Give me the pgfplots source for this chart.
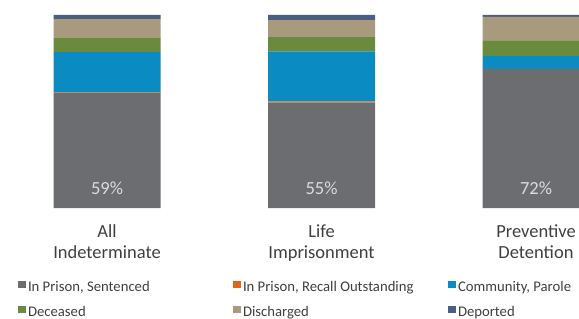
\documentclass[border=0pt]{standalone}
\usepackage{pgfplots}
\pgfplotsset{compat=1.18}
\usepackage{fontspec}
\setmainfont{Carlito}
\definecolor{cSent}{HTML}{6C6D71}
\definecolor{cRec}{HTML}{E0661C}
\definecolor{cComm}{HTML}{0A8BC2}
\definecolor{cDec}{HTML}{6A8A3D}
\definecolor{cDis}{HTML}{A99A7D}
\definecolor{cDep}{HTML}{4A5F81}
\definecolor{cPct}{HTML}{DCDCDC}
\definecolor{cTxt}{HTML}{3F3F3F}
\begin{document}
\begin{tikzpicture}
\path[use as bounding box] (0bp,0bp) rectangle (579bp,319bp);
\clip (0bp,0bp) rectangle (579bp,319bp);
\begin{axis}[
  at={(-0.25bp,111bp)}, anchor=south west,
  scale only axis, width=643.5bp, height=193bp,
  xmin=-0.5, xmax=2.5, ymin=0, ymax=100,
  hide axis,
  ybar stacked, bar width=107bp,
  clip=false,
  legend columns=3,
  legend style={at={(0.02836,-0.478)}, anchor=west, draw=none, fill=none,
    inner sep=0pt, outer sep=0pt, column sep=0pt, row sep=11bp,
    font=\fontsize{14.7bp}{17bp}\selectfont, text=cTxt,
    nodes={inner sep=1.5bp, text height=9bp, text depth=2bp}},
  legend image code/.code={\fill[#1] (0bp,-0.25bp) rectangle (7.5bp,7.25bp); \path (8.5bp,0bp);},
]
\addplot[fill=cSent, draw=none] coordinates {(0,59.7) (1,54.6) (2,72.0)};
\addlegendentry{\makebox[203.5bp][l]{In Prison, Sentenced}}
\addplot[fill=cRec, draw=none] coordinates {(0,0.2) (1,0.6) (2,0.1)};
\addlegendentry{\makebox[203.5bp][l]{In Prison, Recall Outstanding}}
\addplot[fill=cComm, draw=none] coordinates {(0,20.8) (1,25.9) (2,6.6)};
\addlegendentry{\makebox[203.5bp][l]{Community, Parole}}
\addplot[fill=cDec, draw=none] coordinates {(0,7.3) (1,7.5) (2,7.9)};
\addlegendentry{\makebox[203.5bp][l]{Deceased}}
\addplot[fill=cDis, draw=none] coordinates {(0,9.8) (1,8.7) (2,12.4)};
\addlegendentry{\makebox[203.5bp][l]{Discharged}}
\addplot[fill=cDep, draw=none] coordinates {(0,2.2) (1,2.7) (2,1.0)};
\addlegendentry{\makebox[203.5bp][l]{Deported}}
\coordinate (p0) at (axis cs:0,6.74);
\coordinate (p1) at (axis cs:1,6.74);
\coordinate (p2) at (axis cs:2,6.74);
\node[anchor=base, text=cTxt, font=\fontsize{18.5bp}{22bp}\selectfont] at (axis cs:0,-15.03) {All};
\node[anchor=base, text=cTxt, font=\fontsize{18.5bp}{22bp}\selectfont] at (axis cs:0,-26.42) {Indeterminate};
\node[anchor=base, text=cTxt, font=\fontsize{18.5bp}{22bp}\selectfont] at (axis cs:1,-15.03) {Life};
\node[anchor=base, text=cTxt, font=\fontsize{18.5bp}{22bp}\selectfont] at (axis cs:1,-26.42) {Imprisonment};
\node[anchor=base, text=cTxt, font=\fontsize{18.5bp}{22bp}\selectfont] at (axis cs:2,-15.03) {Preventive};
\node[anchor=base, text=cTxt, font=\fontsize{18.5bp}{22bp}\selectfont] at (axis cs:2,-26.42) {Detention};
\end{axis}
\node[anchor=base, text=cPct, font=\fontsize{18.5bp}{22bp}\selectfont] at (p0) {59\%};
\node[anchor=base, text=cPct, font=\fontsize{18.5bp}{22bp}\selectfont] at (p1) {55\%};
\node[anchor=base, text=cPct, font=\fontsize{18.5bp}{22bp}\selectfont] at (p2) {72\%};
\end{tikzpicture}
\end{document}
